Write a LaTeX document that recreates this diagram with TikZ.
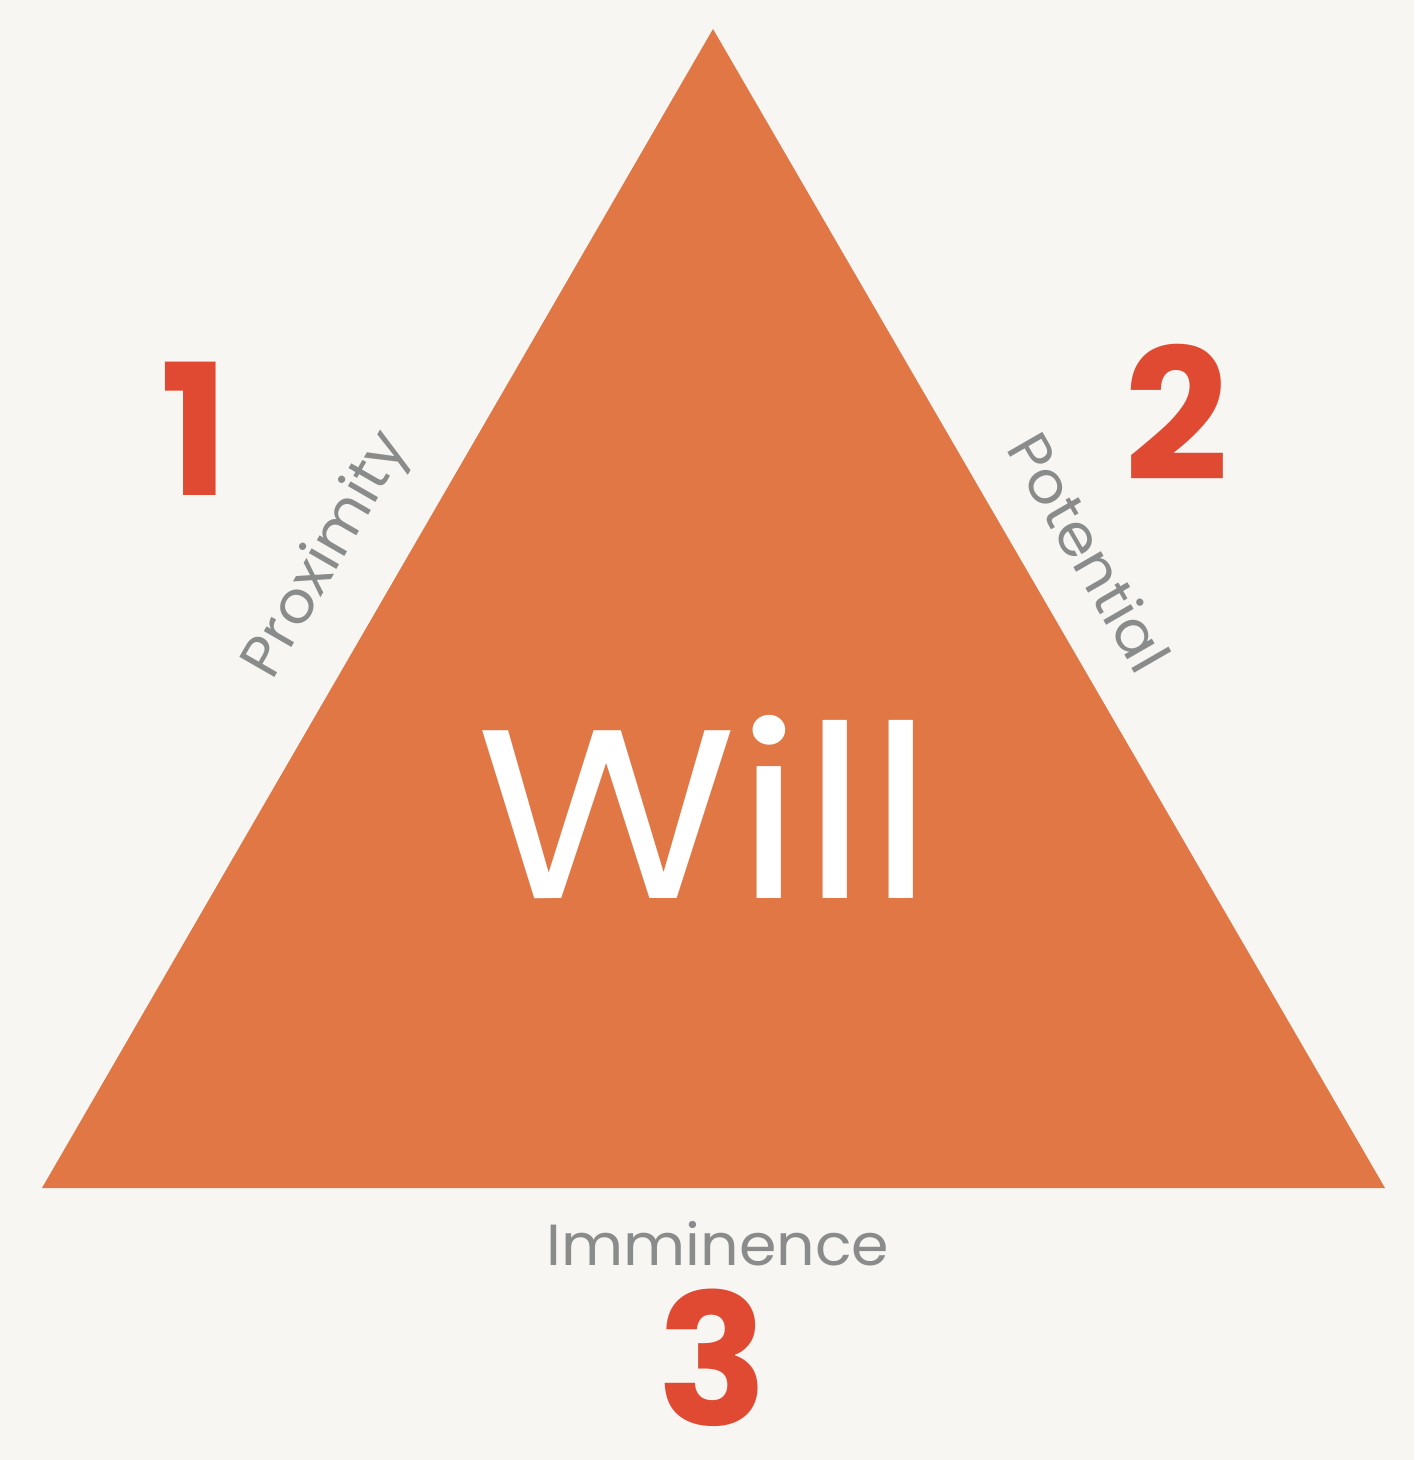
\documentclass[tikz,border=0pt]{standalone}
\usepackage{fontspec}
\setmainfont{Poppins}
\newfontfamily\widefont[FakeStretch=1.11]{Poppins}
\newfontfamily\labelfont[FakeStretch=1.04]{Poppins}
\definecolor{paper}{HTML}{F7F6F2}
\definecolor{willorange}{HTML}{E07744}
\definecolor{numred}{HTML}{E04A33}
\definecolor{labelgray}{HTML}{8A8C8C}

\begin{document}
\begin{tikzpicture}[x=0.02cm, y=-0.02cm]
    \fill[paper] (0,0) rectangle (1414,1460);
    \coordinate (T) at (713, 29);
    \coordinate (L) at (42, 1188);
    \coordinate (R) at (1385, 1188);

    % 三角形
    \fill[willorange] (T) -- (L) -- (R) -- cycle;

    \node[anchor=base, inner sep=0pt, text=white, font=\widefont\fontsize{137}{137}\selectfont] (will) at (705, 898) {Will};

    \node[anchor=base, inner sep=0pt, text=numred, font=\fontsize{104}{104}\selectfont\bfseries] (one) at (195, 495) {1};
    \node[anchor=base, inner sep=0pt, text=numred, font=\fontsize{104}{104}\selectfont\bfseries] (two) at (1177, 480) {2};
    \node[anchor=base, inner sep=0pt, text=numred, font=\fontsize{104}{104}\selectfont\bfseries] (three) at (713, 1425) {3};

    % 辺のラベル
    \node[rotate=60, inner sep=0pt, text=labelgray, font=\labelfont\fontsize{33}{33}\selectfont] (prox) at (328, 556) {Proximity};
    \node[rotate=-60, inner sep=0pt, text=labelgray, font=\labelfont\fontsize{33}{33}\selectfont] (pot) at (1090, 552) {Potential};
    \node[anchor=base, inner sep=0pt, text=labelgray, font=\labelfont\fontsize{33}{33}\selectfont] (imm) at (718, 1265) {Imminence};
\end{tikzpicture}
\end{document}
